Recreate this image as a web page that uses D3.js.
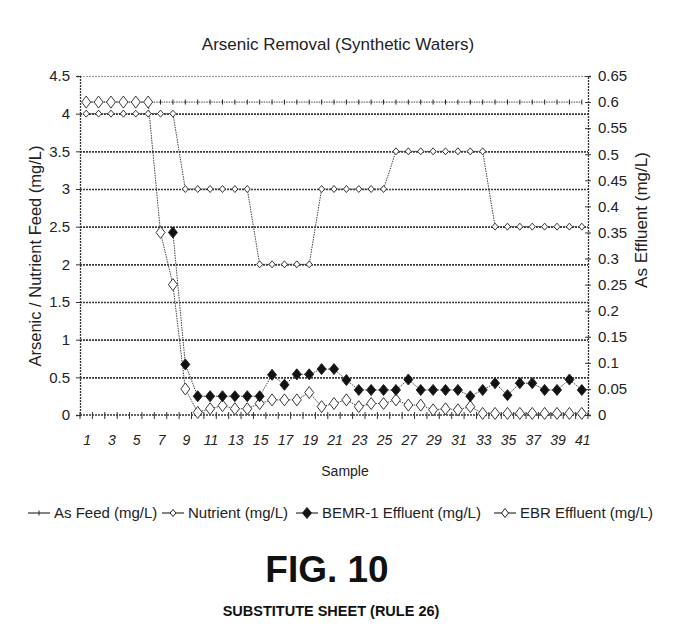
<!DOCTYPE html>
<meta charset="utf-8">
<style>
    body { margin: 0; background: #fff; }
    svg { font-family: "Liberation Sans", Arial, sans-serif; }
    .axis path, .axis line { stroke: #333; }
    .axis text { fill: #222; }
</style>
<script src="https://cdn.jsdelivr.net/npm/d3@7"></script>
<body>
<svg></svg>
</body>
<script>

    // sample numbers on the category axis
    var samples = [1, 2, 3, 4, 5, 6, 7, 8, 9, 10, 11, 12, 13, 14, 15, 16, 17, 18, 19, 20,
        21, 22, 23, 24, 25, 26, 27, 28, 29, 30, 31, 32, 33, 34, 35, 36, 37, 38, 39, 40, 41];
    var xLabels = [1, 3, 5, 7, 9, 11, 13, 15, 17, 19, 21, 23, 25, 27, 29, 31, 33, 35, 37, 39, 41];
    var leftTicks = [0, 0.5, 1, 1.5, 2, 2.5, 3, 3.5, 4, 4.5];
    var rightTicks = [0, 0.05, 0.1, 0.15, 0.2, 0.25, 0.3, 0.35, 0.4, 0.45, 0.5, 0.55, 0.6, 0.65];

    // right axis (mg/L)
    var asFeed = [0.6, 0.6, 0.6, 0.6, 0.6, 0.6, 0.6, 0.6, 0.6, 0.6, 0.6, 0.6, 0.6, 0.6, 0.6,
        0.6, 0.6, 0.6, 0.6, 0.6, 0.6, 0.6, 0.6, 0.6, 0.6, 0.6, 0.6, 0.6, 0.6, 0.6, 0.6, 0.6,
        0.6, 0.6, 0.6, 0.6, 0.6, 0.6, 0.6, 0.6, 0.6];
    // left axis (mg/L)
    var nutrient = [4, 4, 4, 4, 4, 4, 4, 4, 3, 3, 3, 3, 3, 3, 2, 2, 2, 2, 2, 3, 3, 3, 3, 3, 3,
        3.5, 3.5, 3.5, 3.5, 3.5, 3.5, 3.5, 3.5, 2.5, 2.5, 2.5, 2.5, 2.5, 2.5, 2.5, 2.5];
    // right axis (mg/L)
    var bemr = [null, null, null, null, null, null, null, 0.35, 0.097, 0.036, 0.036, 0.036,
        0.036, 0.036, 0.036, 0.077, 0.058, 0.078, 0.078, 0.088, 0.088, 0.067, 0.048, 0.048,
        0.048, 0.048, 0.068, 0.048, 0.048, 0.048, 0.048, 0.036, 0.048, 0.061, 0.038, 0.061,
        0.061, 0.048, 0.048, 0.068, 0.048];
    var ebr = [0.6, 0.6, 0.6, 0.6, 0.6, 0.6, 0.35, 0.25, 0.05, 0.005, 0.012, 0.018, 0.012,
        0.012, 0.022, 0.029, 0.029, 0.029, 0.043, 0.016, 0.022, 0.029, 0.016, 0.022, 0.022,
        0.029, 0.019, 0.019, 0.01, 0.012, 0.01, 0.016, 0.003, 0.003, 0.003, 0.003, 0.003,
        0.003, 0.003, 0.003, 0.003];

    var W = 682, H = 641;
    var pL = 80, pR = 588, pT = 76, pB = 415;

    var svg = d3.select('svg').attr('width', W).attr('height', H);

    var x = d3.scaleBand().domain(samples).range([pL, pR]);
    var yL = d3.scaleLinear().domain([0, 4.5]).range([pB, pT]);
    var yR = d3.scaleLinear().domain([0, 0.65]).range([pB, pT]);
    var cx = function (s) { return x(s) + x.bandwidth() / 2; };

    var dots = '2,1';

    // gridlines from the primary axis
    svg.append('g')
        .attr('transform', 'translate(' + pL + ',0)')
        .call(d3.axisLeft(yL).tickValues(leftTicks.slice(1)).tickSize(-(pR - pL)).tickFormat(''))
        .call(function (g) {
            g.select('.domain').remove();
            g.selectAll('line').attr('stroke', '#3a3a3a').attr('stroke-width', 1.6)
                .attr('stroke-dasharray', dots);
            g.selectAll('.tick:last-of-type line').attr('stroke', '#999').attr('stroke-width', 1);
        });

    // left axis
    svg.append('g').attr('class', 'axis')
        .attr('transform', 'translate(' + pL + ',0)')
        .call(d3.axisLeft(yL).tickValues(leftTicks).tickSize(4).tickPadding(6)
            .tickFormat(d3.format('')))
        .call(function (g) {
            g.select('.domain').attr('stroke-dasharray', dots).attr('stroke-width', 1.3);
            g.selectAll('text').attr('font-size', 15);
        });

    // right axis
    svg.append('g').attr('class', 'axis')
        .attr('transform', 'translate(' + pR + ',0)')
        .call(d3.axisRight(yR).tickValues(rightTicks).tickSize(3).tickPadding(7)
            .tickFormat(d3.format('')))
        .call(function (g) {
            g.select('.domain').attr('stroke-dasharray', dots).attr('stroke-width', 1.3);
            g.selectAll('.tick line').attr('x1', -3);
            g.selectAll('text').attr('font-size', 15);
        });

    // category axis
    var xg = svg.append('g').attr('class', 'axis');
    xg.append('line')
        .attr('x1', pL).attr('x2', pR).attr('y1', pB).attr('y2', pB)
        .attr('stroke', '#333').attr('stroke-width', 1.6).attr('stroke-dasharray', dots);
    xg.selectAll('.xt').data(samples.concat([null])).enter().append('line')
        .attr('x1', function (s) { return s === null ? pR : x(s); })
        .attr('x2', function (s) { return s === null ? pR : x(s); })
        .attr('y1', pB - 3).attr('y2', pB + 4)
        .attr('stroke', '#444');
    xg.selectAll('.xl').data(xLabels).enter().append('text')
        .attr('x', function (s) { return cx(s) + 1; })
        .attr('y', 445)
        .attr('text-anchor', 'middle')
        .attr('font-size', 14)
        .attr('font-style', 'italic')
        .attr('fill', '#222')
        .text(function (s) { return s; });

    // series
    function drawLine(data, y) {
        var line = d3.line()
            .defined(function (d) { return d != null; })
            .x(function (d, i) { return cx(samples[i]); })
            .y(function (d) { return y(d); });
        svg.append('path').datum(data)
            .attr('d', line)
            .attr('fill', 'none')
            .attr('stroke', '#444')
            .attr('stroke-width', 1)
            .attr('stroke-dasharray', '1.5,1');
    }

    function diamond(w, h) {
        return 'M0,' + (-h / 2) + 'L' + (w / 2) + ',0L0,' + (h / 2) + 'L' + (-w / 2) + ',0Z';
    }

    function drawMarks(data, y, path, fill, sw) {
        svg.append('g').selectAll('path')
            .data(data.map(function (d, i) { return { s: samples[i], v: d }; })
                .filter(function (d) { return d.v != null; }))
            .enter().append('path')
            .attr('transform', function (d) { return 'translate(' + cx(d.s) + ',' + y(d.v) + ')'; })
            .attr('d', path)
            .attr('fill', fill)
            .attr('stroke', '#222')
            .attr('stroke-width', sw);
    }

    drawLine(asFeed, yR);
    drawLine(nutrient, yL);
    drawLine(bemr, yR);
    drawLine(ebr, yR);

    drawMarks(asFeed, yR, 'M0,-2.5L0,2.5', 'none', 1);
    drawMarks(nutrient, yL, diamond(6, 7), '#fff', 0.9);
    drawMarks(ebr, yR, diamond(9, 12), '#fff', 0.9);
    drawMarks(bemr, yR, diamond(9, 11), '#111', 1);

    // titles
    svg.append('text').attr('x', 338).attr('y', 50).attr('text-anchor', 'middle')
        .attr('font-size', 17).attr('fill', '#222')
        .text('Arsenic Removal (Synthetic Waters)');
    svg.append('text').attr('transform', 'translate(41,256) rotate(-90)')
        .attr('text-anchor', 'middle').attr('font-size', 16.5).attr('fill', '#222')
        .text('Arsenic / Nutrient Feed (mg/L)');
    svg.append('text').attr('transform', 'translate(647,220) rotate(-90)')
        .attr('text-anchor', 'middle').attr('font-size', 17).attr('fill', '#222')
        .text('As Effluent (mg/L)');
    svg.append('text').attr('x', 345).attr('y', 476).attr('text-anchor', 'middle')
        .attr('font-size', 14).attr('fill', '#222')
        .text('Sample');

    // legend
    var legend = [
        { name: 'As Feed (mg/L)', x0: 28, mark: 'M0,-2.5L0,2.5', fill: 'none' },
        { name: 'Nutrient (mg/L)', x0: 162, mark: diamond(6, 7), fill: '#fff' },
        { name: 'BEMR-1 Effluent (mg/L)', x0: 296, mark: diamond(9, 11), fill: '#111' },
        { name: 'EBR Effluent (mg/L)', x0: 494, mark: diamond(7, 9), fill: '#fff' }
    ];
    var lg = svg.append('g').selectAll('g').data(legend).enter().append('g')
        .attr('transform', function (d) { return 'translate(' + d.x0 + ',513)'; });
    lg.append('line').attr('x1', 0).attr('x2', 22)
        .attr('stroke', '#333').attr('stroke-width', 1.2);
    lg.append('path').attr('transform', 'translate(11,0)')
        .attr('d', function (d) { return d.mark; })
        .attr('fill', function (d) { return d.fill; })
        .attr('stroke', '#222');
    lg.append('text').attr('x', 26).attr('y', 5)
        .attr('font-size', 15).attr('fill', '#222')
        .text(function (d) { return d.name; });

    // figure caption
    svg.append('text').attr('x', 327).attr('y', 582).attr('text-anchor', 'middle')
        .attr('font-size', 37).attr('font-weight', 'bold').attr('fill', '#111')
        .text('FIG. 10');
    svg.append('text').attr('x', 331).attr('y', 616).attr('text-anchor', 'middle')
        .attr('font-size', 14.5).attr('font-weight', 'bold').attr('fill', '#111')
        .text('SUBSTITUTE SHEET (RULE 26)');

</script>
</html>
